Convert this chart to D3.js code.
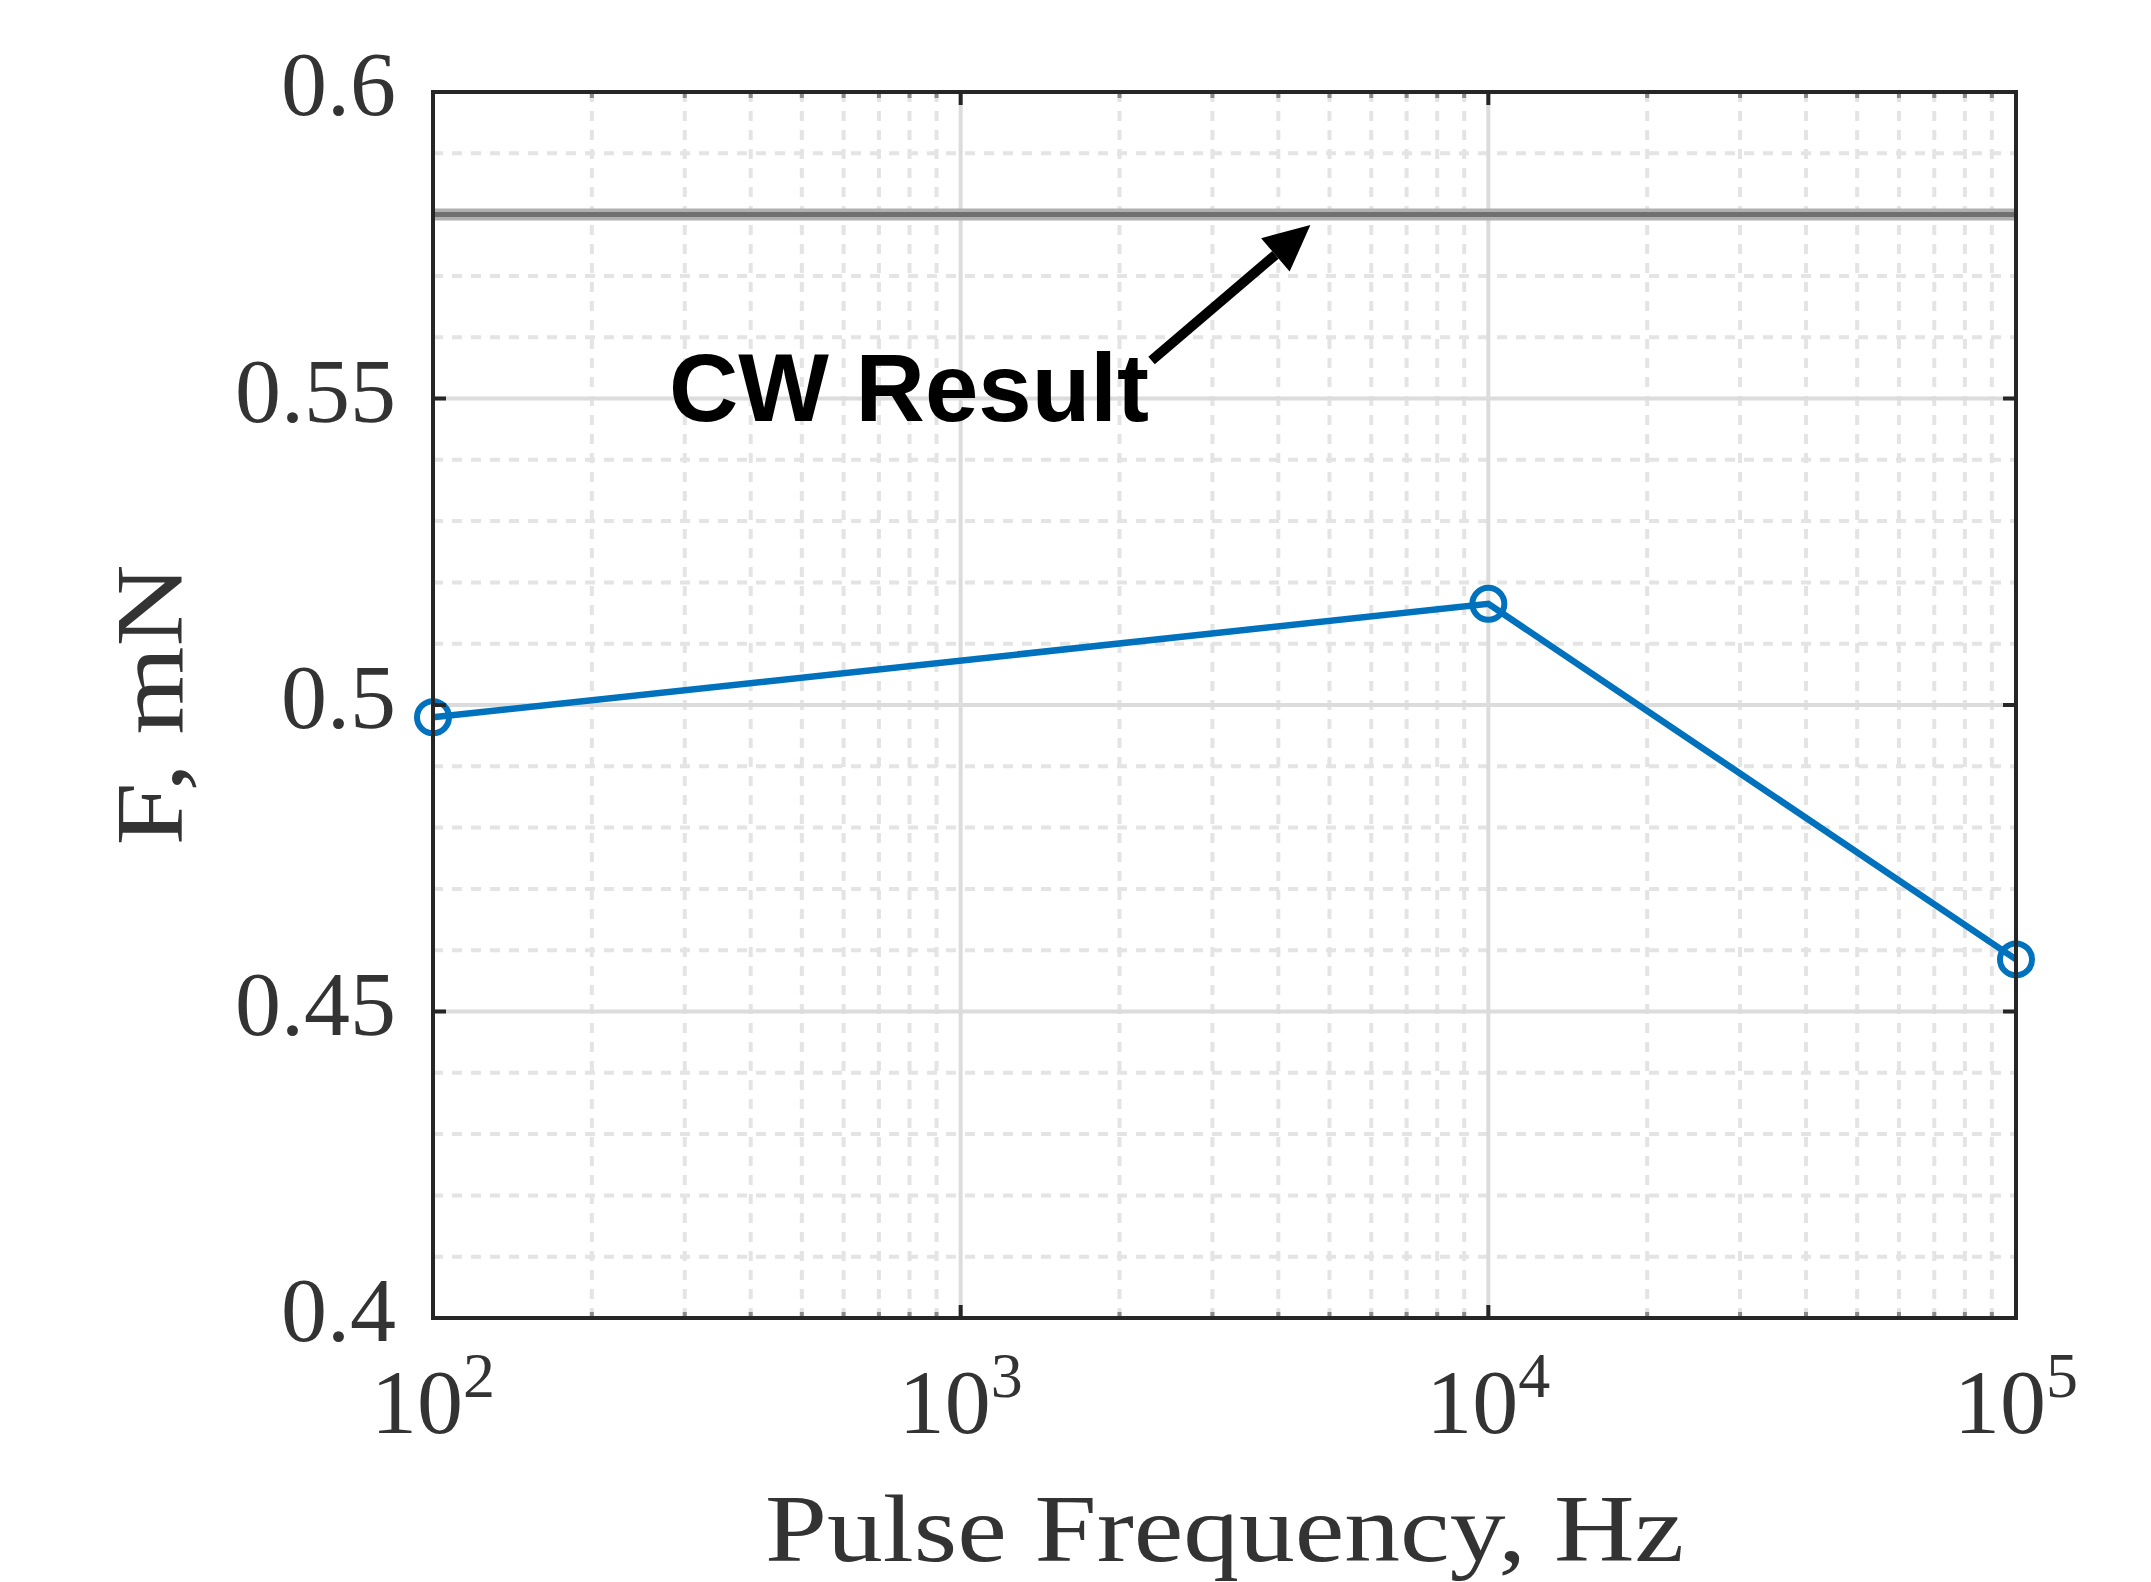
<!DOCTYPE html>
<html>
<head>
<meta charset="utf-8">
<script src="https://cdn.jsdelivr.net/npm/d3@7"></script>
<style>
  html, body { margin: 0; padding: 0; background: #fff; }
</style>
</head>
<body>
<div id="canvas"></div>
<script>
// pulse frequency (Hz) and thrust (mN)
const freqs = [100, 10000, 100000];
const thrust = [0.498, 0.5165, 0.4585];
const cwResult = 0.58;

const yTicks = [0.4, 0.45, 0.5, 0.55, 0.6];
const yTickLabels = ['0.4', '0.45', '0.5', '0.55', '0.6'];
const xTicks = [1e2, 1e3, 1e4, 1e5];
const xTickExps = ['2', '3', '4', '5'];

// annotation anchors in data units
const noteText = 'CW Result';
const noteAt = { f: 280, v: 0.5463 };
const arrowFrom = { f: 2300, v: 0.5562 };
const arrowTo = { f: 4600, v: 0.5783 };

const width = 2151;
const height = 1582;
const margin = { top: 92, right: 135, bottom: 264, left: 433 };
const ink = '#262626';

const svg = d3.select('#canvas')
  .append('svg')
    .attr('width', width)
    .attr('height', height)
    .attr('viewBox', [0, 0, width, height]);

const x = d3.scaleLog()
  .domain([1e2, 1e5])
  .range([margin.left, width - margin.right]);

const y = d3.scaleLinear()
  .domain([0.4, 0.6])
  .range([height - margin.bottom, margin.top]);

const x0 = x.range()[0], x1 = x.range()[1];
const y0 = y.range()[0], y1 = y.range()[1];

const xMinor = x.ticks().filter(d => !xTicks.includes(d));
const yMinor = y.ticks(20).filter(d => !yTicks.some(t => Math.abs(t - d) < 1e-9));

// minor grid (dashed)
const grid = svg.append('g');
grid.selectAll('.xm')
  .data(xMinor)
  .enter().append('line')
    .attr('x1', d => x(d)).attr('x2', d => x(d))
    .attr('y1', y0).attr('y2', y1)
    .attr('stroke', '#e4e4e4')
    .attr('stroke-width', 4)
    .attr('stroke-dasharray', '10 9');
grid.selectAll('.ym')
  .data(yMinor)
  .enter().append('line')
    .attr('x1', x0).attr('x2', x1)
    .attr('y1', d => y(d)).attr('y2', d => y(d))
    .attr('stroke', '#e4e4e4')
    .attr('stroke-width', 4)
    .attr('stroke-dasharray', '10 9');

// major grid
grid.selectAll('.xM')
  .data(xTicks)
  .enter().append('line')
    .attr('x1', d => x(d)).attr('x2', d => x(d))
    .attr('y1', y0).attr('y2', y1)
    .attr('stroke', '#dcdcdc')
    .attr('stroke-width', 4);
grid.selectAll('.yM')
  .data(yTicks)
  .enter().append('line')
    .attr('x1', x0).attr('x2', x1)
    .attr('y1', d => y(d)).attr('y2', d => y(d))
    .attr('stroke', '#dcdcdc')
    .attr('stroke-width', 4);

// CW reference line
svg.append('line')
  .attr('x1', x0).attr('x2', x1)
  .attr('y1', y(cwResult)).attr('y2', y(cwResult))
  .attr('stroke', '#b0b0b0')
  .attr('stroke-width', 12);
svg.append('line')
  .attr('x1', x0).attr('x2', x1)
  .attr('y1', y(cwResult)).attr('y2', y(cwResult))
  .attr('stroke', '#707070')
  .attr('stroke-width', 5);

// series
const pts = freqs.map((f, i) => ({ f: f, v: thrust[i] }));
const line = d3.line().x(d => x(d.f)).y(d => y(d.v));

svg.append('path')
  .datum(pts)
  .attr('d', line)
  .attr('fill', 'none')
  .attr('stroke', '#0072BD')
  .attr('stroke-width', 6.5);

svg.append('g').selectAll('circle')
  .data(pts)
  .enter().append('circle')
    .attr('cx', d => x(d.f))
    .attr('cy', d => y(d.v))
    .attr('r', 16)
    .attr('fill', 'none')
    .attr('stroke', '#0072BD')
    .attr('stroke-width', 6);

// ticks (inward, box on)
const ticks = svg.append('g').attr('stroke-width', 4);
xTicks.forEach(d => {
  ticks.append('line').attr('x1', x(d)).attr('x2', x(d)).attr('y1', y0).attr('y2', y0 - 13).attr('stroke', ink);
  ticks.append('line').attr('x1', x(d)).attr('x2', x(d)).attr('y1', y1).attr('y2', y1 + 13).attr('stroke', ink);
});
xMinor.forEach(d => {
  ticks.append('line').attr('x1', x(d)).attr('x2', x(d)).attr('y1', y0).attr('y2', y0 - 6).attr('stroke', '#8a8a8a');
  ticks.append('line').attr('x1', x(d)).attr('x2', x(d)).attr('y1', y1).attr('y2', y1 + 6).attr('stroke', '#8a8a8a');
});
yTicks.forEach(d => {
  ticks.append('line').attr('x1', x0).attr('x2', x0 + 13).attr('y1', y(d)).attr('y2', y(d)).attr('stroke', ink);
  ticks.append('line').attr('x1', x1).attr('x2', x1 - 13).attr('y1', y(d)).attr('y2', y(d)).attr('stroke', ink);
});

// box
svg.append('rect')
  .attr('x', x0).attr('y', y1)
  .attr('width', x1 - x0).attr('height', y0 - y1)
  .attr('fill', 'none')
  .attr('stroke', ink)
  .attr('stroke-width', 4);

// tick labels
const serif = '"Liberation Serif", "DejaVu Serif", serif';

svg.append('g').selectAll('text')
  .data(yTicks)
  .enter().append('text')
    .attr('x', x0 - 37)
    .attr('y', d => y(d) + 23)
    .attr('text-anchor', 'end')
    .attr('font-family', serif)
    .attr('font-size', 92)
    .attr('fill', '#333')
    .text((d, i) => yTickLabels[i]);

const xl = svg.append('g').selectAll('text')
  .data(xTicks)
  .enter().append('text')
    .attr('x', d => x(d))
    .attr('y', y0 + 115)
    .attr('text-anchor', 'middle')
    .attr('font-family', serif)
    .attr('font-size', 92)
    .attr('fill', '#333');
xl.append('tspan').text('10');
xl.append('tspan')
  .attr('dy', -36)
  .attr('font-size', 64)
  .text((d, i) => xTickExps[i]);

// axis labels
svg.append('text')
  .attr('x', (x0 + x1) / 2)
  .attr('y', 1561)
  .attr('text-anchor', 'middle')
  .attr('font-family', serif)
  .attr('font-size', 96)
  .attr('fill', '#333')
  .attr('textLength', 919)
  .attr('lengthAdjust', 'spacingAndGlyphs')
  .text('Pulse Frequency, Hz');

svg.append('text')
  .attr('transform', `translate(182, ${(y0 + y1) / 2}) rotate(-90)`)
  .attr('text-anchor', 'middle')
  .attr('font-family', serif)
  .attr('font-size', 96)
  .attr('fill', '#333')
  .attr('textLength', 281)
  .attr('lengthAdjust', 'spacingAndGlyphs')
  .text('F, mN');

// annotation
svg.append('text')
  .attr('x', x(noteAt.f))
  .attr('y', y(noteAt.v))
  .attr('font-family', '"Liberation Sans", Arial, sans-serif')
  .attr('font-weight', 'bold')
  .attr('font-size', 96)
  .attr('fill', '#000')
  .text(noteText);

const ax = x(arrowFrom.f), ay = y(arrowFrom.v);
const bx = x(arrowTo.f), by = y(arrowTo.v);
const ang = Math.atan2(by - ay, bx - ax);
const headLen = 46, headW = 22;
const hx = bx - headLen * Math.cos(ang), hy = by - headLen * Math.sin(ang);

svg.append('line')
  .attr('x1', ax).attr('y1', ay)
  .attr('x2', hx).attr('y2', hy)
  .attr('stroke', '#000')
  .attr('stroke-width', 10);

svg.append('polygon')
  .attr('points', [
    [bx, by],
    [hx + headW * Math.sin(ang), hy - headW * Math.cos(ang)],
    [hx - headW * Math.sin(ang), hy + headW * Math.cos(ang)]
  ].map(p => p.join(',')).join(' '))
  .attr('fill', '#000');
</script>
</body>
</html>
